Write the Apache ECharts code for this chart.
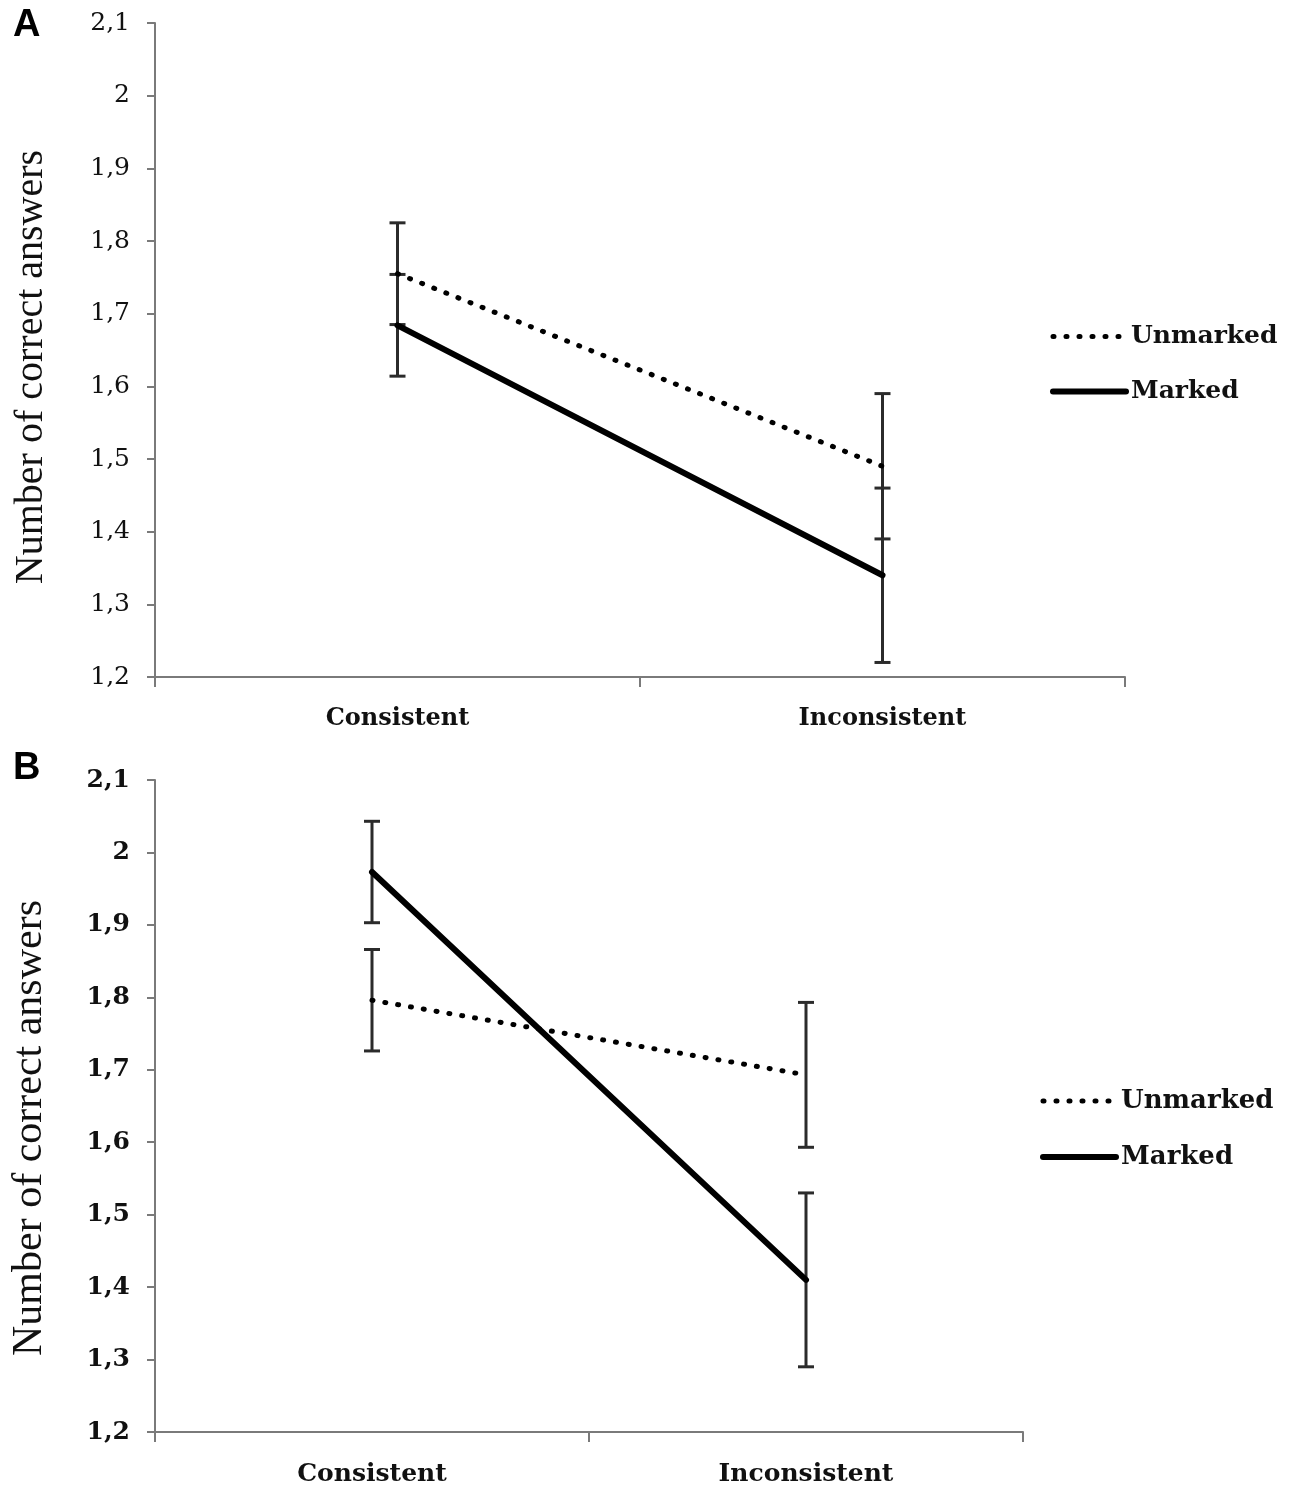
<!DOCTYPE html>
<html><head><meta charset="utf-8">
<script src="https://cdn.jsdelivr.net/npm/echarts@6/dist/echarts.min.js"></script>
<style>html,body{margin:0;padding:0;background:#fff}#c{width:1300px;height:1503px}</style>
</head><body><div id="c"></div>
<script>
const categories = ['Consistent', 'Inconsistent'];
const yTickLabels = ['1,2','1,3','1,4','1,5','1,6','1,7','1,8','1,9','2','2,1'];
const seriesNames = ['Unmarked', 'Marked'];
const aUnmarked = [1.755, 1.490];
const aUnmarkedErr = [0.07, 0.10];
const aMarked = [1.684, 1.340];
const aMarkedErr = [0.07, 0.12];
const bUnmarked = [1.796, 1.693];
const bUnmarkedErr = [0.07, 0.10];
const bMarked = [1.973, 1.410];
const bMarkedErr = [0.07, 0.12];
const yAxisTitle = 'Number of correct answers';

const axisGray = '#7a7a7a';
const textColor = '#111';

function errRender(params, api) {
  const x = api.value(0), m = api.value(1), e = api.value(2);
  const hi = api.coord([x, m + e]);
  const lo = api.coord([x, m - e]);
  const w = 8;
  const style = { stroke: '#2b2b2b', lineWidth: 3 };
  return { type: 'group', children: [
    { type: 'line', shape: { x1: hi[0], y1: hi[1], x2: lo[0], y2: lo[1] }, style },
    { type: 'line', shape: { x1: hi[0] - w, y1: hi[1], x2: hi[0] + w, y2: hi[1] }, style },
    { type: 'line', shape: { x1: lo[0] - w, y1: lo[1], x2: lo[0] + w, y2: lo[1] }, style }
  ]};
}
function errData(means, errs) { return means.map((m, i) => [i, m, errs[i]]); }

function xAxisCfg(gi, font, size) {
  return {
    type: 'category', gridIndex: gi, data: categories, boundaryGap: true,
    axisLine: { lineStyle: { color: axisGray, width: 2 } },
    axisTick: { show: true, length: 10, lineStyle: { color: axisGray, width: 2 } },
    axisLabel: { color: textColor, fontFamily: font, fontWeight: 'bold', fontSize: size, margin: 30 },
    splitLine: { show: false }
  };
}
function yAxisCfg(gi, font, size, bold, nameSize, pad) {
  return {
    type: 'value', gridIndex: gi, min: 1.2, max: 2.1, interval: 0.1,
    name: yAxisTitle, nameLocation: 'middle', nameGap: 104, nameRotate: 90,
    nameTextStyle: { color: textColor, fontFamily: 'Liberation Serif', fontSize: nameSize, padding: [0, pad, 0, 0] },
    axisLine: { show: true, lineStyle: { color: axisGray, width: 2 } },
    axisTick: { show: true, length: 8, lineStyle: { color: axisGray, width: 2 } },
    axisLabel: { color: textColor, fontFamily: font, fontSize: size, fontWeight: bold ? 'bold' : 'normal', margin: 25,
      formatter: (v, i) => yTickLabels[i] },
    splitLine: { show: false }
  };
}
const unmarkedStyle = { color: '#000', width: 5, type: [1, 12], cap: 'round' };
const markedStyle = { color: '#000', width: 6, type: 'solid', cap: 'round' };

function legendCfg(top, left, size) {
  return {
    data: seriesNames, orient: 'vertical', left: left, top: top,
    itemWidth: 73, itemHeight: 20, itemGap: 30, selectedMode: false,
    lineStyle: { width: 'inherit' },
    itemStyle: { opacity: 0 },
    textStyle: { color: textColor, fontFamily: 'DejaVu Serif', fontWeight: 'bold', fontSize: size, lineHeight: 20 }
  };
}

const chart = echarts.init(document.getElementById('c'));
chart.setOption({
  animation: false,
  backgroundColor: '#fff',
  title: [
    { text: 'A', left: 8, top: 2, textStyle: { fontFamily: 'Liberation Sans', fontWeight: 'bold', fontSize: 38, color: '#000' } },
    { text: 'B', left: 8, top: 745, textStyle: { fontFamily: 'Liberation Sans', fontWeight: 'bold', fontSize: 38, color: '#000' } }
  ],
  legend: [legendCfg(319, 1045, 25), legendCfg(1083, 1035, 26)],
  grid: [
    { left: 155, top: 23, width: 970, height: 654 },
    { left: 155, top: 780, width: 868, height: 652 }
  ],
  xAxis: [xAxisCfg(0, 'DejaVu Serif', 24), xAxisCfg(1, 'DejaVu Serif', 25)],
  yAxis: [yAxisCfg(0, 'DejaVu Serif', 25, false, 40, 34), yAxisCfg(1, 'DejaVu Serif', 25, true, 42, 44)],
  series: [
    { type: 'custom', name: 'errA1', xAxisIndex: 0, yAxisIndex: 0, renderItem: errRender, data: errData(aUnmarked, aUnmarkedErr), encode: { x: 0, y: 1 }, z: 1 },
    { type: 'custom', name: 'errA2', xAxisIndex: 0, yAxisIndex: 0, renderItem: errRender, data: errData(aMarked, aMarkedErr), encode: { x: 0, y: 1 }, z: 1 },
    { type: 'line', name: 'Unmarked', xAxisIndex: 0, yAxisIndex: 0, data: aUnmarked, symbol: 'none', lineStyle: unmarkedStyle, itemStyle: { color: '#000' }, z: 3 },
    { type: 'line', name: 'Marked', xAxisIndex: 0, yAxisIndex: 0, data: aMarked, symbol: 'none', lineStyle: markedStyle, itemStyle: { color: '#000' }, z: 3 },
    { type: 'custom', name: 'errB1', xAxisIndex: 1, yAxisIndex: 1, renderItem: errRender, data: errData(bUnmarked, bUnmarkedErr), encode: { x: 0, y: 1 }, z: 1 },
    { type: 'custom', name: 'errB2', xAxisIndex: 1, yAxisIndex: 1, renderItem: errRender, data: errData(bMarked, bMarkedErr), encode: { x: 0, y: 1 }, z: 1 },
    { type: 'line', name: 'Unmarked', xAxisIndex: 1, yAxisIndex: 1, data: bUnmarked, symbol: 'none', lineStyle: unmarkedStyle, itemStyle: { color: '#000' }, z: 3 },
    { type: 'line', name: 'Marked', xAxisIndex: 1, yAxisIndex: 1, data: bMarked, symbol: 'none', lineStyle: markedStyle, itemStyle: { color: '#000' }, z: 3 }
  ]
});
</script></body></html>
